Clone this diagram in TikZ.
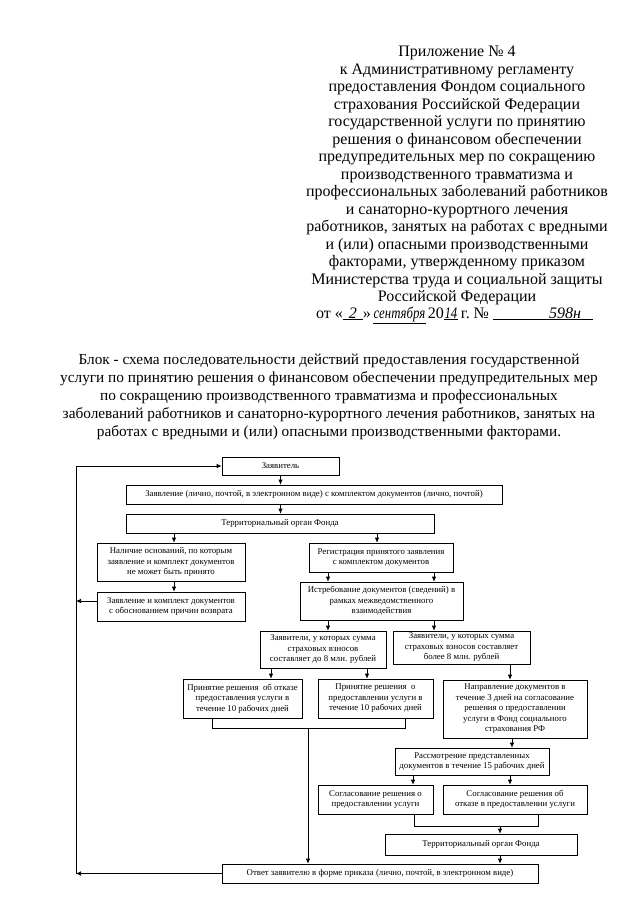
\documentclass[tikz,border=0pt]{standalone}
\usepackage{fontspec}
\setmainfont{Liberation Serif}
\usetikzlibrary{arrows.meta}
\begin{document}
\begin{tikzpicture}[x=1pt,y=-1pt,
  box/.style={draw, line width=0.7pt, inner sep=0.5pt, align=center, font=\fontsize{8.8}{10.5}\selectfont},
  arr/.style={-{Latex[length=5pt,width=4.5pt]}, line width=0.7pt},
  ln/.style={line width=0.7pt},
  hdr/.style={align=center, inner sep=0pt, font=\fontsize{16}{17.5}\selectfont}]
\useasboundingbox[fill=white] (0,0) rectangle (640,905);

% header
\node[hdr, anchor=north] (hdr) at (457,46) {Приложение № 4\\
к Административному регламенту\\
предоставления Фондом социального\\
страхования Российской Федерации\\
государственной услуги по принятию\\
решения о финансовом обеспечении\\
предупредительных мер по сокращению\\
производственного травматизма и\\
профессиональных заболеваний работников\\
и санаторно-курортного лечения\\
работников, занятых на работах с вредными\\
и (или) опасными производственными\\
факторами, утвержденному приказом\\
Министерства труда и социальной защиты\\
Российской Федерации};
\node[anchor=base west, inner sep=0pt, font=\fontsize{16}{17.5}\selectfont] (date) at (316,318)
 {от «\underline{\makebox[20pt]{\textit{2}}}»\hspace{2pt}\underline{\makebox[53pt]{\scalebox{0.8}[1]{\textit{сентября}}}}\hspace{2pt}20\underline{\makebox[14pt]{\scalebox{0.8}[1]{\textit{14}}}}\hspace{3pt}г.~№\hspace{4pt}\underline{\makebox[100pt][r]{\textit{598н}\hspace{12pt}}}};

% title
\node[align=center, inner sep=0pt, font=\fontsize{15.3}{18}\selectfont, anchor=north] (title) at (329,354)
 {Блок - схема последовательности действий предоставления государственной\\
услуги по принятию решения о финансовом обеспечении предупредительных мер\\
по сокращению производственного травматизма и профессиональных\\
заболеваний работников и санаторно-курортного лечения работников, занятых на\\
работах с вредными и (или) опасными производственными факторами.};

% boxes
\node[box, minimum width=117pt, minimum height=18pt] (zay) at (280.5,466) {Заявитель};
\node[box, minimum width=376pt, minimum height=19pt] (zayv) at (314,494.5) {Заявление (лично, почтой, в электронном виде) с комплектом документов (лично, почтой)};
\node[box, minimum width=308pt, minimum height=19pt] (terr1) at (280,523.5) {Территориальный орган Фонда};
\node[box, minimum width=148pt, minimum height=38pt] (nal) at (171,562) {Наличие оснований, по которым\\заявление и комплект документов\\не может быть принято};
\node[box, minimum width=148pt, minimum height=29pt] (vozv) at (171,606.5) {Заявление и комплект документов\\с обоснованием причин возврата};
\node[box, minimum width=144pt, minimum height=29pt] (reg) at (381,557.5) {Регистрация принятого заявления\\с комплектом документов};
\node[box, minimum width=163pt, minimum height=38pt] (ist) at (381.5,601) {Истребование документов (сведений) в\\рамках межведомственного\\взаимодействия};
\node[box, minimum width=126pt, minimum height=37pt] (do8) at (323,649.5) {Заявители, у которых сумма\\страховых взносов\\составляет до 8 млн. рублей};
\node[box, minimum width=137pt, minimum height=33pt] (bol8) at (461.5,647.5) {Заявители, у которых сумма\\страховых взносов составляет\\более 8 млн. рублей};
\node[box, minimum width=119pt, minimum height=39pt] (prot) at (242.5,698.5) {Принятие решения~ об отказе\\предоставления услуги в\\течение 10 рабочих дней};
\node[box, minimum width=115pt, minimum height=39pt] (pred) at (375.5,698.5) {Принятие решения~ о\\предоставлении услуги в\\течение 10 рабочих дней};
\node[box, minimum width=144pt, minimum height=58pt] (napr) at (515,709) {Направление документов в\\течение 3 дней на согласование\\решения о предоставлении\\услуги в Фонд социального\\страхования РФ};
\node[box, minimum width=154pt, minimum height=27pt] (rass) at (472,761.5) {Рассмотрение представленных\\документов в течение 15 рабочих дней};
\node[box, minimum width=115pt, minimum height=29pt] (sogl1) at (375.5,799.5) {Согласование решения о\\предоставлении услуги};
\node[box, minimum width=144pt, minimum height=29pt] (sogl2) at (515,799.5) {Согласование решения об\\отказе в предоставлении услуги};
\node[box, minimum width=192pt, minimum height=21pt] (terr2) at (481,844.5) {Территориальный орган Фонда};
\node[box, minimum width=316pt, minimum height=19pt] (otv) at (380,873.5) {Ответ заявителю в форме приказа (лично, почтой, в электронном виде)};

% helper coordinates (x positions of connectors)
\coordinate (L) at (76,0);
\coordinate (c174) at (174,0);
\coordinate (c377) at (377,0);
\coordinate (c328) at (328,0);
\coordinate (c434) at (434,0);
\coordinate (c271) at (271,0);
\coordinate (c367) at (367,0);
\coordinate (c510) at (510,0);
\coordinate (c512) at (512,0);
\coordinate (c413) at (413,0);
\coordinate (b1) at (212,728);
\coordinate (b2) at (405,728);
\coordinate (b3) at (308,728);
\coordinate (s1) at (414,826);
\coordinate (s2) at (538,826);
\coordinate (s3) at (500,826);

% connectors
\draw[arr] (zay.south) -- (zayv.north -| zay.south);
\draw[arr] (zayv.south -| zay.south) -- (terr1.north -| zay.south);
\draw[arr] (terr1.south -| c174) -- (nal.north -| c174);
\draw[arr] (terr1.south -| c377) -- (reg.north -| c377);
\draw[arr] (nal.south -| c174) -- (vozv.north -| c174);
\draw[arr] (reg.south -| c328) -- (ist.north -| c328);
\draw[arr] (reg.south -| c434) -- (ist.north -| c434);
\draw[arr] (ist.south -| c328) -- (do8.north -| c328);
\draw[arr] (ist.south -| c434) -- (bol8.north -| c434);
\draw[arr] (do8.south -| c271) -- (prot.north -| c271);
\draw[arr] (do8.south -| c367) -- (pred.north -| c367);
\draw[arr] (bol8.south -| c510) -- (napr.north -| c510);
\draw[arr] (napr.south -| c512) -- (rass.north -| c512);
\draw[arr] (rass.south -| c413) -- (sogl1.north -| c413);
\draw[arr] (rass.south -| c510) -- (sogl2.north -| c510);
\draw[ln] (prot.south -| b1) -- (b1) -- (b2) -- (pred.south -| b2);
\draw[arr] (b3) -- (otv.north -| b3);
\draw[ln] (sogl1.south -| s1) -- (s1) -- (s2) -- (sogl2.south -| s2);
\draw[arr] (s3) -- (terr2.north -| s3);
\draw[arr] (terr2.south -| s3) -- (otv.north -| s3);
% feedback loop
\draw[arr] (otv.west) -- (otv.west -| L);
\draw[arr] ([yshift=5.5pt]vozv.west) -- ([yshift=5.5pt]vozv.west -| L);
\draw[arr] (otv.west -| L) -- (zay.west -| L) -- (zay.west);
\end{tikzpicture}
\end{document}
